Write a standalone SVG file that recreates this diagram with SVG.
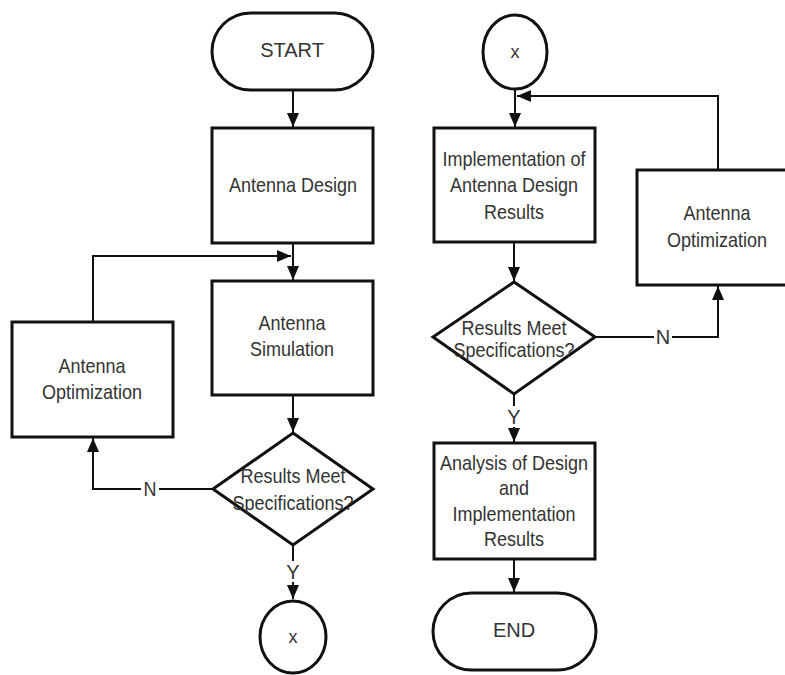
<svg xmlns="http://www.w3.org/2000/svg" width="785" height="675" viewBox="0 0 785 675">
<style>
.shape{fill:#fff;stroke:#111;stroke-width:3}
.line{fill:none;stroke:#111;stroke-width:2}
text{font-family:"Liberation Sans",Arial,sans-serif;font-size:20px;fill:#333;text-anchor:middle}
.lbl{fill:#fff;stroke:none}
</style>
<defs>
<marker id="ah" markerUnits="userSpaceOnUse" markerWidth="14" markerHeight="14" viewBox="0 0 14 14" refX="14" refY="7" orient="auto">
<path d="M0,1 L14,7 L0,13 Z" fill="#111"/>
</marker>
</defs>
<rect width="785" height="675" fill="#fff"/>

<g id="connectors">
<line class="line" x1="293" y1="90" x2="293" y2="127" marker-end="url(#ah)"/>
<line class="line" x1="293" y1="243" x2="293" y2="280" marker-end="url(#ah)"/>
<polyline class="line" points="93,322 93,256 291,256" marker-end="url(#ah)"/>
<line class="line" x1="293" y1="395" x2="293" y2="432" marker-end="url(#ah)"/>
<polyline class="line" points="213,489 93,489 93,438" marker-end="url(#ah)"/>
<rect class="lbl" x="141" y="479" width="18" height="20"/>
<text x="150" y="496" transform="translate(150,0) scale(0.9,1) translate(-150,0)">N</text>
<line class="line" x1="293" y1="545" x2="293" y2="599" marker-end="url(#ah)"/>
<rect class="lbl" x="284" y="561" width="18" height="21"/>
<text x="293" y="579">Y</text>

<line class="line" x1="515" y1="90" x2="515" y2="127" marker-end="url(#ah)"/>
<polyline class="line" points="718,170 718,96 517,96" marker-end="url(#ah)"/>
<line class="line" x1="514" y1="242" x2="514" y2="281" marker-end="url(#ah)"/>
<polyline class="line" points="595,337 718,337 718,286" marker-end="url(#ah)"/>
<rect class="lbl" x="654" y="327" width="18" height="20"/>
<text x="663" y="344">N</text>
<line class="line" x1="514" y1="394" x2="514" y2="442" marker-end="url(#ah)"/>
<rect class="lbl" x="505" y="406" width="18" height="21"/>
<text x="514" y="424">Y</text>
<line class="line" x1="514" y1="559" x2="514" y2="592" marker-end="url(#ah)"/>
</g>

<g id="start">
<rect class="shape" x="212" y="13" width="161" height="77" rx="38.5"/>
<text x="292" y="57">START</text>
</g>
<g id="antenna-design">
<rect class="shape" x="212" y="128" width="161" height="115"/>
<g transform="translate(293,0) scale(0.9,1)"><text x="0" y="192">Antenna Design</text></g>
</g>
<g id="antenna-simulation">
<rect class="shape" x="212" y="281" width="161" height="114"/>
<g transform="translate(292,0) scale(0.9,1)"><text x="0" y="330">Antenna</text><text x="0" y="356">Simulation</text></g>
</g>
<g id="antenna-optimization-1">
<rect class="shape" x="12" y="322" width="161" height="115"/>
<g transform="translate(92,0) scale(0.9,1)"><text x="0" y="373">Antenna</text><text x="0" y="399">Optimization</text></g>
</g>
<g id="decision-1">
<polygon class="shape" points="293,433 373,489 293,545 213,489"/>
<g transform="translate(293,0) scale(0.9,1)"><text x="0" y="483">Results Meet</text><text x="0" y="510">Specifications?</text></g>
</g>
<g id="connector-x-1">
<ellipse class="shape" cx="293" cy="637" rx="33" ry="36"/>
<text x="293" y="643" style="font-size:18px">x</text>
</g>

<g id="connector-x-2">
<ellipse class="shape" cx="515" cy="52" rx="32" ry="37"/>
<text x="515" y="58" style="font-size:18px">x</text>
</g>
<g id="implementation">
<rect class="shape" x="434" y="128" width="161" height="114"/>
<g transform="translate(514,0) scale(0.9,1)"><text x="0" y="166">Implementation of</text><text x="0" y="192">Antenna Design</text><text x="0" y="219">Results</text></g>
</g>
<g id="antenna-optimization-2">
<rect class="shape" x="637" y="170" width="162" height="115"/>
<g transform="translate(717,0) scale(0.9,1)"><text x="0" y="220">Antenna</text><text x="0" y="247">Optimization</text></g>
</g>
<g id="decision-2">
<polygon class="shape" points="514,282 595,337 514,394 433,337"/>
<g transform="translate(514,0) scale(0.9,1)"><text x="0" y="335">Results Meet</text><text x="0" y="357">Specifications?</text></g>
</g>
<g id="analysis">
<rect class="shape" x="434" y="443" width="161" height="116"/>
<g transform="translate(514,0) scale(0.9,1)"><text x="0" y="470">Analysis of Design</text><text x="0" y="495">and</text><text x="0" y="521">Implementation</text><text x="0" y="546">Results</text></g>
</g>
<g id="end">
<rect class="shape" x="433" y="593" width="163" height="77" rx="38.5"/>
<text x="514" y="637">END</text>
</g>
</svg>
